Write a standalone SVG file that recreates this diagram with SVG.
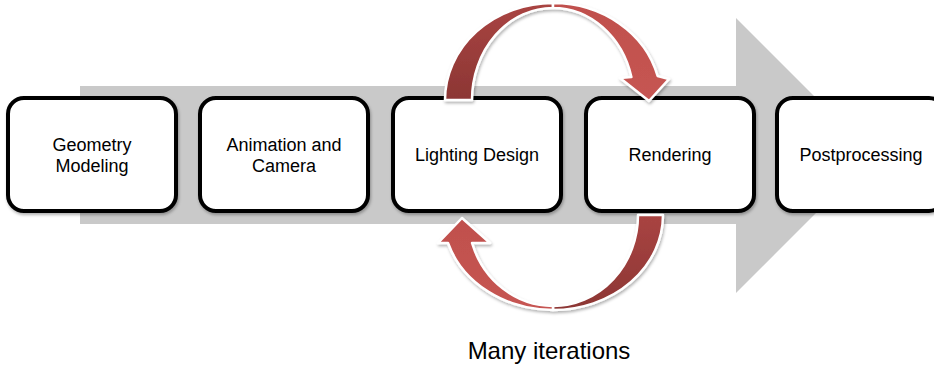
<svg xmlns="http://www.w3.org/2000/svg" width="934" height="365" viewBox="0 0 934 365">
<defs>
<style>
.box{fill:#fff;stroke:#000;stroke-width:4}
.lbl{font-family:"Liberation Sans",Arial,sans-serif;font-size:18px;fill:#000;text-anchor:middle}
.arc{stroke:#fff;stroke-width:2.5;stroke-linejoin:round}
</style>
<linearGradient id="dark" x1="0" y1="0" x2="0" y2="1"><stop offset="0" stop-color="#a94442"/><stop offset="1" stop-color="#8c3634"/></linearGradient>
<linearGradient id="light" x1="0" y1="0" x2="0" y2="1"><stop offset="0" stop-color="#c0504d"/><stop offset="1" stop-color="#c65552"/></linearGradient>
<filter id="sh" x="-10%" y="-10%" width="120%" height="130%"><feDropShadow dx="1" dy="2" stdDeviation="1.5" flood-color="#000" flood-opacity="0.3"/></filter>
</defs>
<g id="backbone">
<polygon points="80,86 736,86 736,18 873.5,155.5 736,293 736,224 80,224" fill="#c9c9c9"/>
</g>
<g id="geometry-modeling"><rect class="box" x="8" y="98" width="168" height="113" rx="16" filter="url(#sh)"/><text class="lbl" x="92" y="151">Geometry</text><text class="lbl" x="92" y="172">Modeling</text></g>
<g id="animation-camera"><rect class="box" x="200" y="98" width="168" height="113" rx="16" filter="url(#sh)"/><text class="lbl" x="284" y="151">Animation and</text><text class="lbl" x="284" y="172">Camera</text></g>
<g id="lighting-design"><rect class="box" x="393" y="98" width="168" height="113" rx="16" filter="url(#sh)"/><text class="lbl" x="477" y="161">Lighting Design</text></g>
<g id="rendering"><rect class="box" x="586" y="98" width="168" height="113" rx="16" filter="url(#sh)"/><text class="lbl" x="670" y="161">Rendering</text></g>
<g id="postprocessing"><rect class="box" x="777" y="98" width="168" height="113" rx="16" filter="url(#sh)"/><text class="lbl" x="861" y="161">Postprocessing</text></g>
<g id="connectors">
<g id="top-loop" filter="url(#sh)">
<path class="arc" fill="url(#dark)" d="M445,100 A108,97 0 0 1 553,3 L553,8 A81,92 0 0 0 472,100 Z"/>
<path class="arc" fill="url(#light)" d="M553,3 A108,97 0 0 1 657.6,76 L669,79 L649,101 L620,78 L631.4,77 A81,92 0 0 0 553,8 Z"/>
</g>
<g id="bottom-loop" filter="url(#sh)">
<path class="arc" fill="url(#dark)" d="M663,215 A110,95 0 0 1 553,310 L553,306 A85,91 0 0 0 638,215 Z"/>
<path class="arc" fill="url(#light)" d="M553,310 A110,95 0 0 1 448,243 L438,243 L462,218 L490,243 L472,243 A85,91 0 0 0 553,306 Z"/>
</g>
</g>
<text x="549" y="359" font-family="Liberation Sans,Arial,sans-serif" font-size="24" text-anchor="middle" fill="#000">Many iterations</text>
</svg>
